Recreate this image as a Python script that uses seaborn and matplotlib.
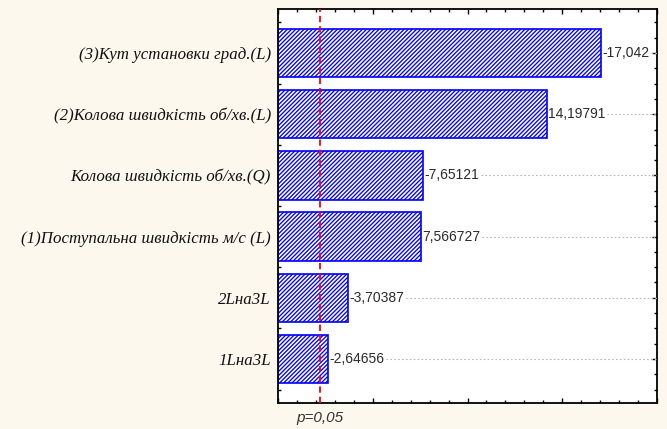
import matplotlib
matplotlib.use("Agg")
import matplotlib.pyplot as plt
from matplotlib.ticker import MultipleLocator
import seaborn as sns
import pandas as pd
import numpy as np

# Standardized effect estimates (Pareto chart of effects)
factors = [
    "(3)Кут установки град.(L)",
    "(2)Колова швидкість об/хв.(L)",
    "Колова швидкість об/хв.(Q)",
    "(1)Поступальна швидкість м/с (L)",
    "2Lна3L",
    "1Lна3L",
]
effects = [-17.042, 14.19791, -7.65121, 7.566727, -3.70387, -2.64656]
effect_labels = ["-17,042", "14,19791", "-7,65121", "7,566727", "-3,70387", "-2,64656"]
p_critical = 2.2
p_label = "p=0,05"

df = pd.DataFrame({"factor": factors, "abs_effect": np.abs(effects)})

sns.set_style("white")
plt.rcParams["hatch.color"] = "#0000ff"
plt.rcParams["hatch.linewidth"] = 0.95

bg = "#fdf8ee"
fig = plt.figure(figsize=(6.67, 4.29), dpi=100, facecolor=bg)
ax = fig.add_axes([278 / 667, 1 - 403 / 429, 379 / 667, 394 / 429])
ax.set_facecolor("white")

sns.barplot(data=df, x="abs_effect", y="factor", orient="h", ax=ax,
            color="white", edgecolor="#0000ff", linewidth=1.2,
            hatch="////////", width=0.79, saturation=1)

ax.set_xlim(0, 20)
ax.set_ylim(5.72, -0.72)
ax.set_xlabel("")
ax.set_ylabel("")

# critical value line
ax.axvline(p_critical, color="#ff0000", linestyle=(0, (3.5, 2.2)), linewidth=1.3, zorder=5)

# value labels followed by dotted leader lines
fig.canvas.draw()
renderer = fig.canvas.get_renderer()
inv = ax.transData.inverted()
for i, (v, lab) in enumerate(zip(np.abs(effects), effect_labels)):
    t = ax.text(v + 0.05, i, lab, ha="left", va="center",
                fontsize=10, family="Liberation Sans", color="#2a2a2a", zorder=6)
    bb = t.get_window_extent(renderer)
    x_end = inv.transform((bb.x1 + 2, bb.y0))[0]
    ax.plot([x_end, 20], [i, i], color="#b8b8b8", linestyle=(0, (1.5, 2)),
            linewidth=0.8, zorder=4)

# tick styling
ax.set_xticks(np.arange(0, 21, 5))
ax.set_xticklabels([])
ax.xaxis.set_minor_locator(MultipleLocator(1))
ax.yaxis.set_minor_locator(MultipleLocator(0.25))
ax.tick_params(axis="both", which="both", direction="in", top=True, right=True,
               bottom=True, left=True, color="black", width=1)
ax.tick_params(axis="both", which="major", length=3.5)
ax.tick_params(axis="both", which="minor", length=2.5)
ax.tick_params(axis="y", which="major", labelsize=12.2, pad=5)
for lbl in ax.get_yticklabels():
    lbl.set_family("Liberation Serif")
    lbl.set_style("italic")
    lbl.set_color("#111111")

for s in ax.spines.values():
    s.set_visible(True)
    s.set_color("black")
    s.set_linewidth(1.3)

ax.text(p_critical, -0.038, p_label, transform=ax.get_xaxis_transform(),
        ha="center", va="center", fontsize=11, style="italic",
        family="Liberation Sans", color="#333333")

fig.savefig("out.png", dpi=100, facecolor=bg)
